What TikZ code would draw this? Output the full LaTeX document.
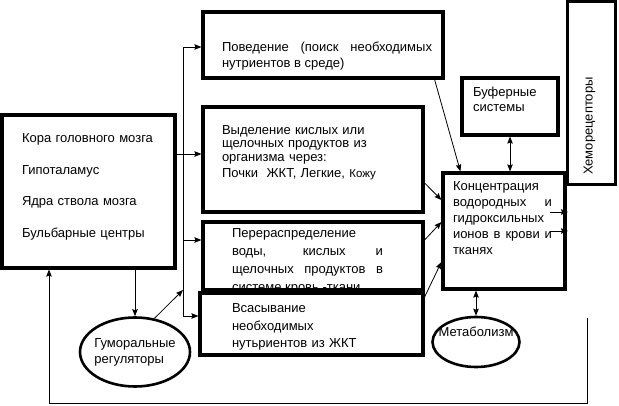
\documentclass[tikz,border=0pt]{standalone}
\usepackage{fontspec}
\setmainfont{Liberation Sans}
\usetikzlibrary{shapes,arrows,arrows.meta}

\begin{document}
\begin{tikzpicture}
[ x=1pt, y=-1pt,
block/.style ={rectangle, draw=black, line width=3.2pt, fill=white,
 inner sep=2pt, font=\fontsize{13}{16}\selectfont},
oval/.style ={ellipse, draw=black, line width=2.6pt, fill=white,
 inner sep=0pt, font=\fontsize{13}{16}\selectfont},
line/.style ={line width=0.8pt},
arr/.style ={line width=0.8pt, -{Stealth[length=7pt,width=5.5pt,inset=1pt]}},
darr/.style ={line width=0.8pt,
 {Stealth[length=7pt,width=5.5pt,inset=1pt]}-{Stealth[length=7pt,width=5.5pt,inset=1pt]}},
]
\useasboundingbox (0,0) rectangle (619,406);

% left column
\node (cortex) [block, minimum width=173, minimum height=153, text width=150,
 align=left, text height=0pt, text depth=98pt,
 font=\fontsize{13}{31.7}\selectfont] at (88.5,191.5)
{\leftskip=8.5pt Кора головного мозга\\Гипоталамус\\Ядра ствола мозга\\Бульбарные центры\par};
\node (humor) [oval, minimum width=110, minimum height=69, align=left,
 inner xsep=-2pt] at (135,352) {Гуморальные\\регуляторы};

% middle column
\node (behav) [block, minimum width=240, minimum height=66, text width=218,
 align=justify, text height=13pt, text depth=0pt] at (323,45)
{\leftskip=8pt Поведение (поиск необходимых\linebreak нутриентов в среде)\par};
\node (excr) [block, minimum width=220, minimum height=105, text width=182,
 align=left, text height=0pt, text depth=50pt,
 font=\fontsize{13}{13.5}\selectfont] at (313,159.5)
{Выделение кислых или\\щелочных продуктов из\\организма через:\\[3pt]Почки\ \ ЖКТ, Легкие,\ {\fontsize{11.5}{13}\selectfont Кожу}};
\node (redis) [block, minimum width=220, minimum height=68, text width=162,
 align=justify, text height=0pt, text depth=37pt,
 font=\fontsize{13}{18}\selectfont] at (313,256)
{\rightskip=11pt Перераспределение\newline воды, кислых и\linebreak щелочных продуктов в\linebreak системе кровь -ткани\par};
\node (absorb) [block, minimum width=223, minimum height=62, text width=159,
 align=left, text height=0pt, text depth=23pt,
 font=\fontsize{13}{17.5}\selectfont] at (311.5,324)
{Всасывание\\необходимых\\нутьриентов из ЖКТ};

% right column
\node (buf) [block, minimum width=96, minimum height=57, text width=74,
 align=left, text height=0pt, text depth=20pt,
 font=\fontsize{13}{15}\selectfont] at (510,106.5) {Буферные\\системы};
\node (conc) [block, minimum width=122, minimum height=116, text width=102,
 align=justify, text height=0pt, text depth=80pt] at (504,231)
{\rightskip=3pt Концентрация\newline водородных и\linebreak гидроксильных\newline ионов в крови и\linebreak тканях\par};
\node (metab) [oval, minimum width=87, minimum height=50, inner xsep=-7pt,
 text height=0pt, text depth=11pt] at (476,342) {Метаболизм};
\node (chemo) [block, line width=3pt, rotate=90, minimum width=183, minimum height=48,
 text width=163, align=left, text height=3pt, text depth=0pt] at (591,93.5)
{Хеморецепторы};

\coordinate (busT) at (183,47);
\coordinate (busB) at (183,316);
\coordinate (fb) at (587,318);
\coordinate (fbL) at (49,403);
\coordinate (cOut1) at (550,212);
\coordinate (cOut2) at (550,231);

\draw[line] (busT) -- (busB);
\draw[arr] (busT) -- (behav.west |- busT);
\draw[arr] (cortex.east |- 0,154) -- (excr.west |- 0,154);
\draw[arr] (busT |- 0,240) -- (redis.west |- 0,240);
\draw[arr] (busB) -- (absorb.west |- busB);
\draw[arr] (humor.60) -- (busT |- 0,290);
\draw[arr] (cortex.south -| humor) -- (humor.north);
\draw[arr] (fb) |- (fbL) -- (fbL |- cortex.south);
\draw[arr] ([xshift=-10pt]behav.south east) -- ([xshift=19pt]conc.north west);
\draw[arr] (excr.east |- 0,183) -- (conc.west |- 0,200);
\draw[arr] (redis.east |- 0,240) -- (conc.west |- 0,222);
\draw[arr] (absorb.east |- 0,297) -- (conc.west |- 0,262);
\draw[darr] (buf.south) -- (buf.south |- conc.north);
\draw[darr] (metab.north |- conc.south) -- (metab.north);
\draw[arr] (cOut1) -- +(18,0);
\draw[arr] (cOut2) -- +(18,0);
\end{tikzpicture}
\end{document}
